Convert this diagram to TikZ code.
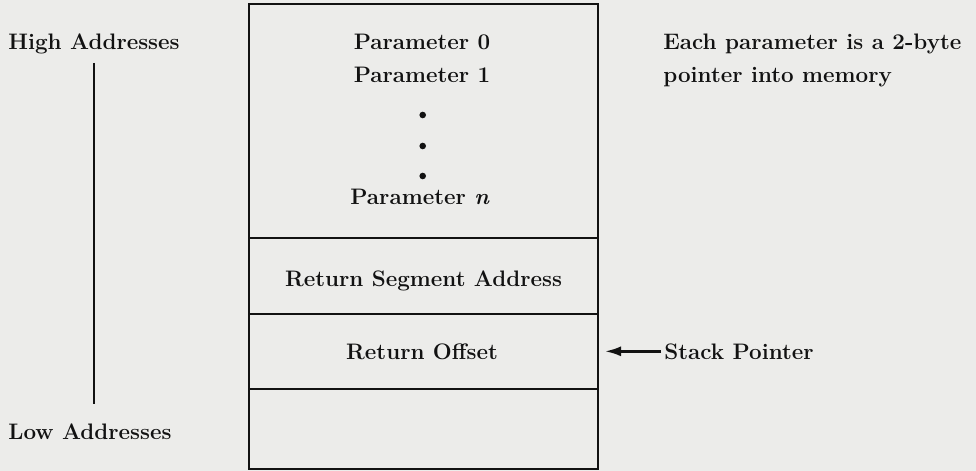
\documentclass[tikz,border=0pt]{standalone}
\usepackage{amsmath}
\usetikzlibrary{positioning, arrows.meta}

\definecolor{paper}{RGB}{236,236,234}
\definecolor{ink}{RGB}{18,18,18}

\tikzset{
  lbl/.style = {font = \fontsize{11.2}{16.5}\selectfont\bfseries, inner sep = 0pt, text = ink},
  cell/.style = {draw = ink, line width = 1.4pt, minimum width = 174.5pt, inner sep = 0pt, outer sep = 0pt},
  dotmark/.style = {circle, fill = ink, inner sep = 0pt, minimum size = 3.3pt}
}

\begin{document}
\begin{tikzpicture}[x = 0.5pt, y = -0.5pt]
\fill[paper] (0,0) rectangle (976,471);
\useasboundingbox (0,0) rectangle (976,471);

% the stack
\node[cell, minimum height = 117pt] (params) at (423.5,121) {};
\node[cell, minimum height = 38pt, below = 0pt of params] (seg) {};
\node[cell, minimum height = 37.5pt, below = 0pt of seg] (off) {};
\node[cell, minimum height = 40pt, below = 0pt of off] (rest) {};

\node[lbl] (p0) at (422,49) [anchor = base] {Parameter 0};
\node[lbl] (p1) at (422,83) [anchor = base] {Parameter 1};
\node[dotmark] (d1) at (422.7,115) {};
\node[dotmark] (d2) at (422.7,146) {};
\node[dotmark] (d3) at (422.7,176) {};
\node[lbl] (pn) at (420,204) [anchor = base] {Parameter \textit{n}};

\node[lbl] (segtxt) at (seg.center |- 0,286) [anchor = base] {Return Segment Address};
\node[lbl] (offtxt) at (422,359) [anchor = base] {Return Offset};

% addresses
\node[lbl] (high) at (8,49) [anchor = base west] {High Addresses};
\node[lbl] (low) at (8,439) [anchor = base west] {Low Addresses};
\draw[ink, line width = 1.4pt, shorten < = 4.5pt, shorten > = 9.5pt] (high.south) -- (high.south |- low.north);

% notes
\node[lbl, align = left] (note) at (663,33.5) [anchor = north west] {Each parameter is a 2-byte\\pointer into memory};
\node[lbl] (sp) at (664,359) [anchor = base west] {Stack Pointer};
\draw[ink, line width = 1.2pt, -{Latex[length = 8pt, width = 5pt]}, shorten < = 1.5pt, shorten > = 3.5pt] (sp.west) -- (sp.west -| off.east);
\end{tikzpicture}
\end{document}
